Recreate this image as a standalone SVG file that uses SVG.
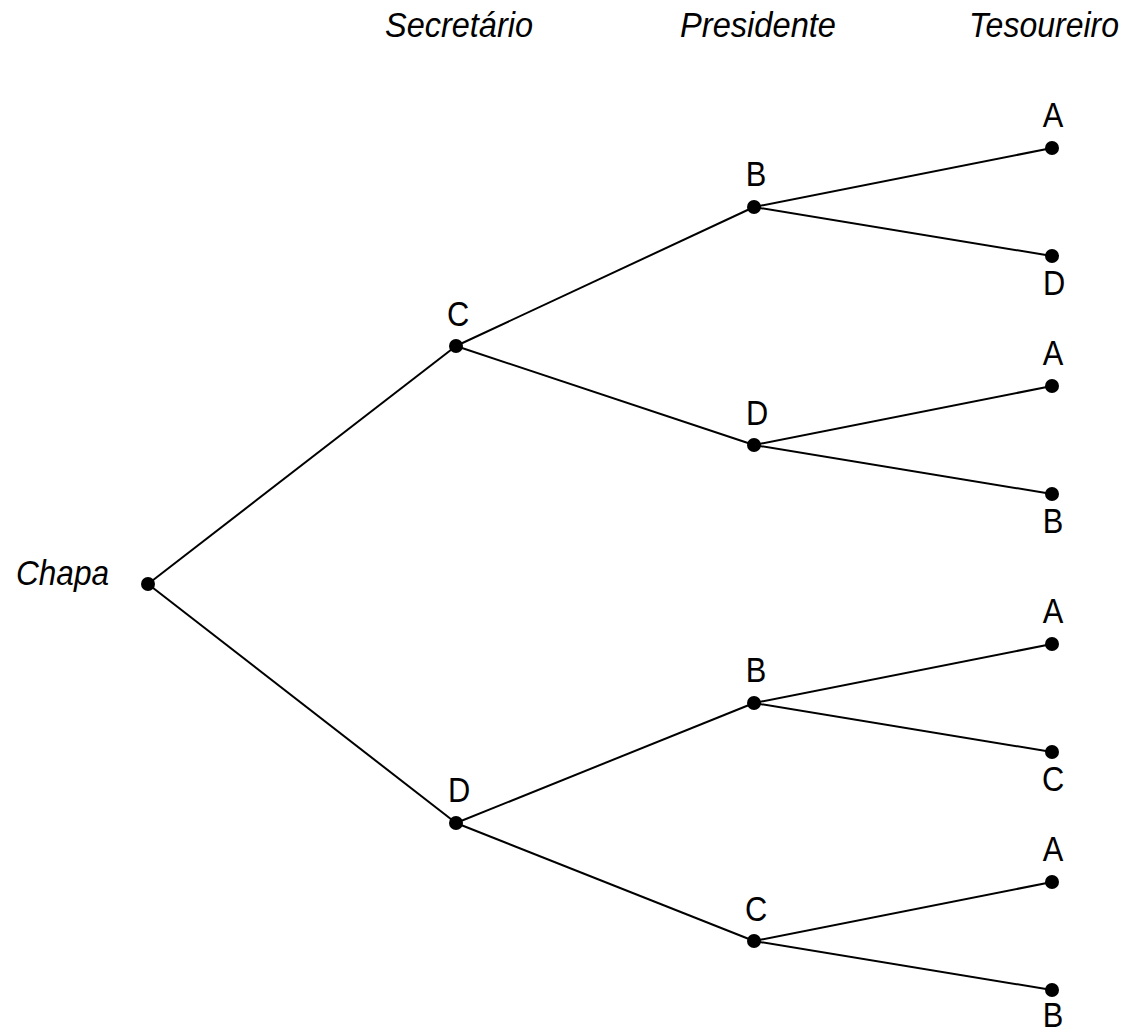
<svg xmlns="http://www.w3.org/2000/svg" width="1126" height="1032" viewBox="0 0 1126 1032">
<style>
.e{stroke:#000;stroke-width:2;fill:none}
.d{fill:#000}
.l{font-family:"Liberation Sans",Arial,sans-serif;font-size:35px;fill:#000;text-anchor:middle}
.h{font-family:"Liberation Sans",Arial,sans-serif;font-size:35px;font-style:italic;fill:#000}
</style>
<rect width="1126" height="1032" fill="#fff"/>
<g id="headers">
<text class="h" x="385" y="37" textLength="148" lengthAdjust="spacingAndGlyphs">Secretário</text>
<text class="h" x="680" y="37" textLength="156" lengthAdjust="spacingAndGlyphs">Presidente</text>
<text class="h" x="969" y="37" textLength="150" lengthAdjust="spacingAndGlyphs">Tesoureiro</text>
</g>
<g id="connectors">
<line class="e" x1="148" y1="584" x2="456" y2="346"/>
<line class="e" x1="148" y1="584" x2="456" y2="823"/>
<line class="e" x1="456" y1="346" x2="754" y2="207"/>
<line class="e" x1="456" y1="346" x2="754" y2="445"/>
<line class="e" x1="456" y1="823" x2="754" y2="703"/>
<line class="e" x1="456" y1="823" x2="754" y2="941"/>
<line class="e" x1="754" y1="207" x2="1052" y2="148"/>
<line class="e" x1="754" y1="207" x2="1052" y2="256"/>
<line class="e" x1="754" y1="445" x2="1052" y2="386"/>
<line class="e" x1="754" y1="445" x2="1052" y2="494"/>
<line class="e" x1="754" y1="703" x2="1052" y2="644"/>
<line class="e" x1="754" y1="703" x2="1052" y2="752"/>
<line class="e" x1="754" y1="941" x2="1052" y2="882"/>
<line class="e" x1="754" y1="941" x2="1052" y2="990"/>
</g>
<g id="root"><circle class="d" cx="148" cy="584" r="7"/><text class="h" x="16" y="585" font-size="37" textLength="93" lengthAdjust="spacingAndGlyphs">Chapa</text></g>
<g id="sC"><circle class="d" cx="456" cy="346" r="7"/><text class="l" transform="translate(458,326) scale(0.88,1)">C</text></g>
<g id="sD"><circle class="d" cx="456" cy="823" r="7"/><text class="l" transform="translate(459,802) scale(0.88,1)">D</text></g>
<g id="pB1"><circle class="d" cx="754" cy="207" r="7"/><text class="l" transform="translate(756,186) scale(0.88,1)">B</text></g>
<g id="pD"><circle class="d" cx="754" cy="445" r="7"/><text class="l" transform="translate(757,425) scale(0.88,1)">D</text></g>
<g id="pB2"><circle class="d" cx="754" cy="703" r="7"/><text class="l" transform="translate(756,682) scale(0.88,1)">B</text></g>
<g id="pC"><circle class="d" cx="754" cy="941" r="7"/><text class="l" transform="translate(756,921) scale(0.88,1)">C</text></g>
<g id="t1"><circle class="d" cx="1052" cy="148" r="7"/><text class="l" transform="translate(1053,127) scale(0.88,1)">A</text></g>
<g id="t2"><circle class="d" cx="1052" cy="256" r="7"/><text class="l" transform="translate(1054,295) scale(0.88,1)">D</text></g>
<g id="t3"><circle class="d" cx="1052" cy="386" r="7"/><text class="l" transform="translate(1053,365) scale(0.88,1)">A</text></g>
<g id="t4"><circle class="d" cx="1052" cy="494" r="7"/><text class="l" transform="translate(1053,533) scale(0.88,1)">B</text></g>
<g id="t5"><circle class="d" cx="1052" cy="644" r="7"/><text class="l" transform="translate(1053,623) scale(0.88,1)">A</text></g>
<g id="t6"><circle class="d" cx="1052" cy="752" r="7"/><text class="l" transform="translate(1053,791) scale(0.88,1)">C</text></g>
<g id="t7"><circle class="d" cx="1052" cy="882" r="7"/><text class="l" transform="translate(1053,861) scale(0.88,1)">A</text></g>
<g id="t8"><circle class="d" cx="1052" cy="990" r="7"/><text class="l" transform="translate(1053,1027) scale(0.88,1)">B</text></g>
</svg>
